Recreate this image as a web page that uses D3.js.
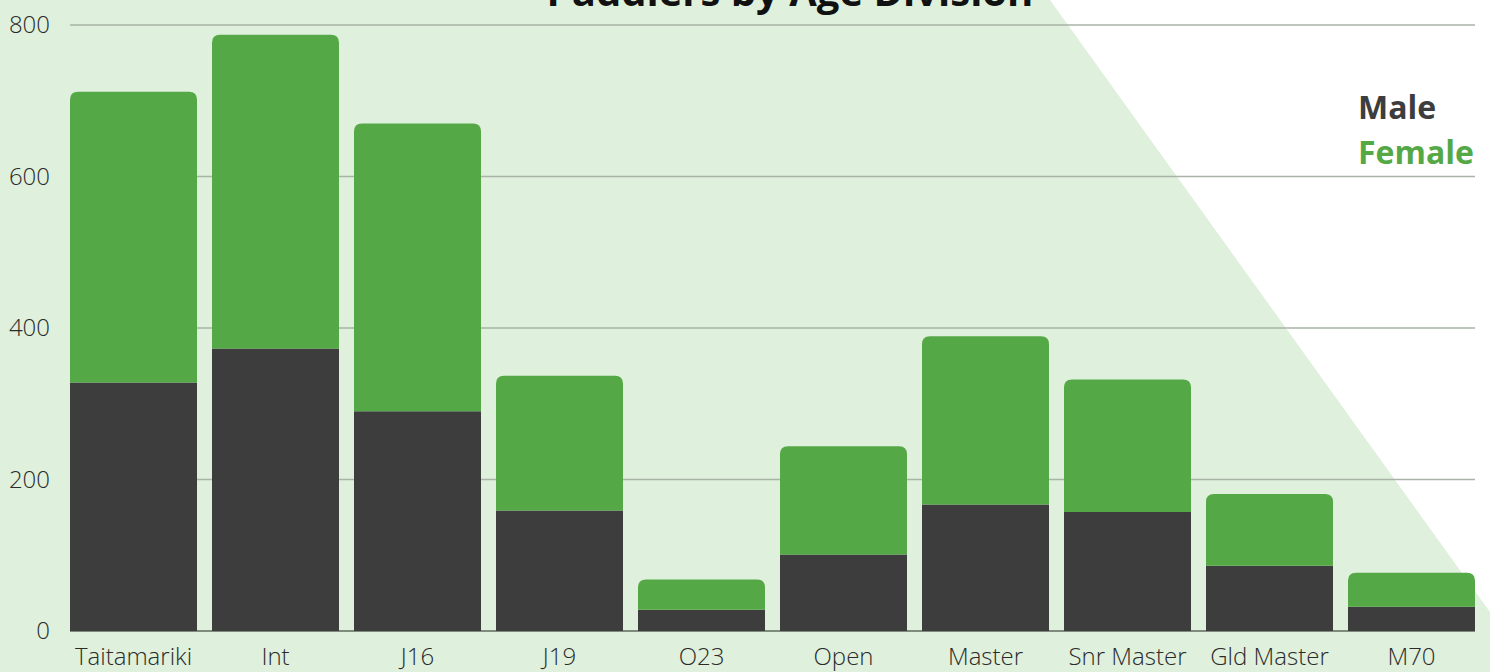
<!DOCTYPE html>
<html><head><meta charset="utf-8">
<script src="https://cdn.jsdelivr.net/npm/d3@7/dist/d3.min.js"></script>
<style>html,body{margin:0;padding:0;background:#fff}svg{display:block}text{font-family:"Open Sans",sans-serif}</style>
</head><body><svg id="c" width="1490" height="672"></svg>
<script>
const categories = ["Taitamariki","Int","J16","J19","O23","Open","Master","Snr Master","Gld Master","M70"];
const male   = [328, 373, 290, 159, 28, 101, 167, 157, 86, 32];
const female = [384, 414, 380, 178, 40, 143, 222, 175, 95, 45];
const yTicks = [0, 200, 400, 600, 800];
const title = "Paddlers by Age Division";
const seriesNames = ["Male", "Female"];
const colors = {Male: "#3d3d3d", Female: "#55a846"};

const svg = d3.select("#c");
const W = 1490, H = 672;
const m = {left: 70, right: 15, top: 25, bottom: 41};

// background
svg.append("rect").attr("width", W).attr("height", H).attr("fill", "#dff0dc");
svg.append("path").attr("d", "M1050,0 L1490,0 L1490,612 Z").attr("fill", "#ffffff");

const x = d3.scaleBand().domain(categories).range([m.left, W - m.right]).paddingInner(15/142).paddingOuter(0);
const y = d3.scaleLinear().domain([0, 800]).range([H - m.bottom, m.top]);

// grid
svg.append("g").selectAll("line").data(yTicks.filter(d => d > 0)).join("line")
  .attr("x1", m.left).attr("x2", W - m.right)
  .attr("y1", d => y(d)).attr("y2", d => y(d))
  .attr("stroke", "#a9b4a7").attr("stroke-width", 1.5);

// baseline
svg.append("line").attr("x1", m.left).attr("x2", W - m.right)
  .attr("y1", y(0)).attr("y2", y(0)).attr("stroke", "#5f6b5e").attr("stroke-width", 1.5);

const data = categories.map((c, i) => ({cat: c, Male: male[i], Female: female[i]}));
const stack = d3.stack().keys(seriesNames)(data);

function roundTop(x0, y0, w, h, r) {
  r = Math.min(r, h, w / 2);
  return `M${x0},${y0 + h} V${y0 + r} Q${x0},${y0} ${x0 + r},${y0} H${x0 + w - r} Q${x0 + w},${y0} ${x0 + w},${y0 + r} V${y0 + h} Z`;
}

stack.forEach((s, si) => {
  const g = svg.append("g").attr("fill", colors[s.key]);
  g.selectAll("path").data(s).join("path")
    .attr("d", d => {
      const x0 = x(d.data.cat), w = x.bandwidth();
      const yt = y(d[1]), yb = y(d[0]);
      if (si === stack.length - 1) return roundTop(x0, yt, w, yb - yt, 8);
      return `M${x0},${yb} V${yt} H${x0 + w} V${yb} Z`;
    });
});

// y axis labels
const yAxis = d3.axisLeft(y).tickValues(yTicks).tickSize(0).tickPadding(20);
const ya = svg.append("g").attr("transform", `translate(${m.left},0)`).call(yAxis);
ya.select(".domain").remove();
ya.selectAll("text").attr("font-size", 24).attr("font-weight", 300).attr("fill", "#2b2b2b")
  .style("font-family", '"Open Sans",sans-serif');

// x axis labels
const xAxis = d3.axisBottom(x).tickSize(0).tickPadding(17);
const xa = svg.append("g").attr("transform", `translate(0,${y(0)})`).call(xAxis);
xa.select(".domain").remove();
xa.selectAll("text").attr("font-size", 24).attr("font-weight", 300).attr("fill", "#2b2b2b")
  .style("font-family", '"Open Sans",sans-serif');

// title
svg.append("text").attr("x", 790).attr("y", 6).attr("text-anchor", "middle")
  .attr("font-size", 40).attr("font-weight", 700).attr("fill", "#111").text(title);

// legend
seriesNames.forEach((n, i) => {
  svg.append("text").attr("x", 1358).attr("y", 119 + i * 45)
    .attr("font-size", 32).attr("font-weight", 700).attr("fill", colors[n]).text(n);
});
</script></body></html>
